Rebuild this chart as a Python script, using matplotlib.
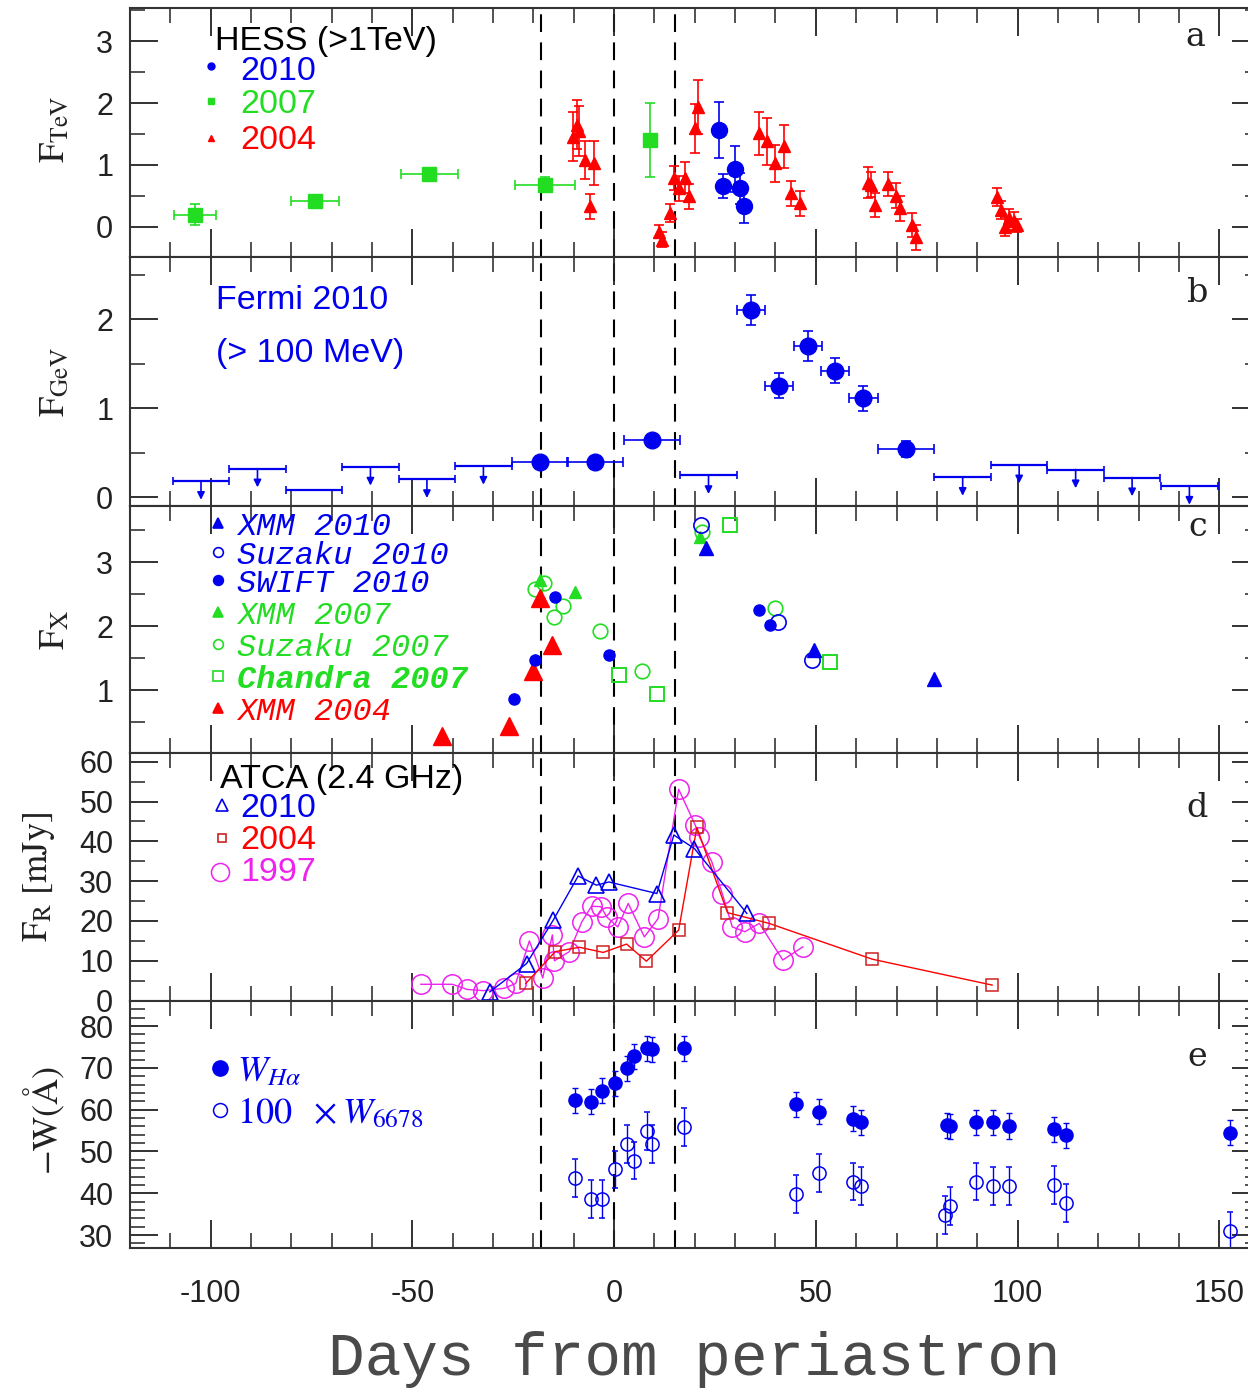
import matplotlib
matplotlib.use('Agg')
import matplotlib.pyplot as plt
from matplotlib.ticker import MultipleLocator, FixedLocator

plt.rcParams['font.family'] = ['Liberation Sans', 'DejaVu Sans']
plt.rcParams['mathtext.fontset'] = 'stix'
plt.rcParams['axes.unicode_minus'] = False

BLUE = '#0000ee'
GREEN = '#22dd22'
RED = '#ff0000'
MAG = '#ee22ee'

# ---------------- data ----------------
dashed_days = [-18, 0, 15]

# (a) HESS >1 TeV
hess10_day = [26.0, 26.9, 29.9, 31.2, 32.1]
hess10_f = [1.57, 0.66, 0.94, 0.62, 0.34]
hess10_err = [0.45, 0.2, 0.37, 0.25, 0.28]

hess07_day = [-103.9, -74.2, -45.8, -17.1, 8.8]
hess07_f = [0.19, 0.41, 0.85, 0.68, 1.40]
hess07_xerr = [5.2, 6.0, 7.0, 7.5, 0.0]
hess07_yerr = [0.17, 0.06, 0.07, 0.12, 0.6]

hess04_day = [-10.2, -9.3, -8.6, -7.2, -6.1, -5.1, 11.2, 11.9, 13.9, 14.8, 16.0, 17.5,
              18.6, 20.1, 20.8, 35.8, 37.8, 39.9, 42.2, 43.9, 46.0, 63.0, 63.7, 64.7,
              67.8, 69.8, 70.9, 73.9, 74.8, 94.8, 95.8, 96.8, 98.0, 99.1, 99.9]
hess04_f = [1.46, 1.65, 1.55, 1.08, 0.33, 1.03, -0.08, -0.21, 0.22, 0.79, 0.62, 0.79,
            0.49, 1.59, 1.94, 1.51, 1.38, 1.03, 1.30, 0.54, 0.38, 0.71, 0.68, 0.35,
            0.69, 0.50, 0.30, 0.03, -0.17, 0.48, 0.27, 0.00, 0.14, 0.09, 0.02]
hess04_err = [0.4, 0.4, 0.4, 0.3, 0.2, 0.35, 0.1, 0.12, 0.15, 0.2, 0.2, 0.25,
              0.2, 0.4, 0.44, 0.35, 0.38, 0.3, 0.35, 0.2, 0.2, 0.25, 0.2, 0.2,
              0.2, 0.2, 0.2, 0.2, 0.2, 0.15, 0.15, 0.15, 0.15, 0.15, 0.1]

# (b) Fermi >100 MeV
fermi_day = [-18.4, -4.7, 9.4, 33.9, 40.8, 48.0, 54.8, 61.8, 72.4]
fermi_f = [0.39, 0.39, 0.64, 2.10, 1.25, 1.70, 1.42, 1.11, 0.54]
fermi_xerr = [7, 7, 7, 3.5, 3.5, 3.5, 3.5, 3.5, 7]
fermi_yerr = [0.07, 0.07, 0.06, 0.17, 0.14, 0.17, 0.14, 0.14, 0.09]
fermi_ul_day = [-102.4, -88.4, -74.4, -60.4, -46.4, -32.4, 23.4, 86.4, 100.4, 114.4, 128.4, 142.6]
fermi_ul_f = [0.18, 0.32, 0.075, 0.34, 0.20, 0.35, 0.245, 0.225, 0.365, 0.31, 0.22, 0.125]
fermi_ul_xerr = 7

# (c) X-ray
xmm10_day = [22.9, 49.6, 79.3]
xmm10_f = [3.23, 1.63, 1.17]
suz10_day = [21.6, 40.6, 49.0]
suz10_f = [3.58, 2.07, 1.47]
swift10_day = [-24.8, -19.7, -14.6, -1.2, 35.8, 38.6]
swift10_f = [0.87, 1.48, 2.46, 1.55, 2.26, 2.02]
xmm07_day = [-18.4, -9.8, 21.4]
xmm07_f = [2.72, 2.53, 3.40]
suz07_day = [-19.5, -17.5, -14.8, -12.7, -3.6, 6.8, 21.8, 39.9]
suz07_f = [2.59, 2.68, 2.15, 2.32, 1.92, 1.30, 3.48, 2.28]
chandra07_day = [1.3, 10.6, 28.8, 53.6]
chandra07_f = [1.24, 0.94, 3.58, 1.44]
xmm04_day = [-42.7, -26.0, -20.1, -18.4, -15.5]
xmm04_f = [0.29, 0.44, 1.30, 2.44, 1.71]

# (d) ATCA 2.4 GHz
r10_day = [-30.8, -21.7, -15.1, -8.9, -4.4, -1.3, 10.6, 14.8, 19.9, 32.9]
r10_f = [2.2, 9.3, 20.2, 31.3, 29.0, 29.8, 26.9, 41.6, 38.2, 21.9]
r04_day = [-21.9, -14.6, -8.6, -2.7, 3.1, 8.0, 16.0, 20.5, 28.1, 38.4, 64.0, 93.7]
r04_f = [4.3, 12.3, 13.4, 12.1, 14.2, 9.9, 17.7, 43.5, 22.1, 19.4, 10.4, 3.9]
r97_day = [-47.9, -40.1, -36.4, -32.4, -27.2, -24.4, -21.0, -17.7, -15.3, -14.8, -11.1,
           -8.0, -5.6, -3.3, -1.8, 0.9, 3.5, 7.5, 10.9, 16.0, 20.1, 21.1, 24.2, 26.8,
           29.3, 32.4, 36.0, 41.8, 46.8]
r97_f = [4.1, 4.1, 2.8, 2.5, 3.1, 4.3, 15.0, 5.7, 16.5, 10.0, 12.3, 19.8, 23.7, 23.6,
         21.0, 18.5, 24.4, 16.0, 20.6, 53.1, 44.1, 41.2, 34.9, 26.9, 18.5, 17.3, 19.4,
         10.2, 13.5]

# (e) equivalent widths
ha_day = [-9.8, -5.8, -3.1, 0.1, 3.1, 4.9, 8.2, 9.3, 17.3, 45.2, 50.9, 59.1, 61.3,
          82.5, 83.2, 89.8, 93.9, 98.0, 109.0, 111.9, 152.7]
ha_w = [62.3, 61.9, 64.5, 66.3, 69.9, 72.8, 74.7, 74.4, 74.7, 61.3, 59.5, 57.8, 57.0,
        56.3, 56.0, 57.0, 57.0, 56.1, 55.3, 53.9, 54.5]
ha_err = [3.0] * 21
he_day = [-9.8, -5.8, -3.0, 0.1, 3.1, 4.9, 8.2, 9.3, 17.3, 45.2, 50.9, 59.1, 61.3,
          82.1, 83.2, 89.8, 93.9, 98.0, 109.0, 111.9, 152.7]
he_w = [43.7, 38.6, 38.6, 45.7, 51.8, 47.8, 54.9, 51.8, 55.9, 39.8, 44.8, 42.8, 41.7,
        34.8, 36.9, 42.8, 41.8, 41.8, 42.0, 37.7, 31.0]
he_err = [4.5] * 21

xticks = [-100, -50, 0, 50, 100, 150]

# ---------------- figure ----------------
W, H = 1248, 1391
fig = plt.figure(figsize=(W / 100, H / 100), dpi=100)
left = 130 / W
width = 1129.6 / W
spans = [(8, 257), (257, 506), (506, 753), (753, 1001), (1001, 1248)]
axes = []
for top, bot in spans:
    axes.append(fig.add_axes([left, 1 - bot / H, width, (bot - top) / H]))

for i, ax in enumerate(axes):
    ax.set_xlim(-120, 160)
    ax.xaxis.set_major_locator(FixedLocator(xticks))
    ax.xaxis.set_minor_locator(MultipleLocator(10))
    ax.tick_params(which='both', direction='in', top=True, right=True,
                   labelsize=22, colors='#222222', pad=12)
    ax.tick_params(which='major', length=20, width=1.3)
    ax.tick_params(which='minor', length=11, width=1.1)
    ax.tick_params(axis='x', pad=22)
    for s in ax.spines.values():
        s.set_linewidth(1.5)
        s.set_color('#333333')
    for xv in dashed_days:
        ax.axvline(xv, color='k', ls=(0, (8.5, 5)), lw=1.5, zorder=0)
    if i < 4:
        ax.tick_params(labelbottom=False)

ebk = dict(elinewidth=1.2, capsize=3.5, capthick=1.2, ls='none')

# (a)
ax = axes[0]
ax.set_ylim(-0.49, 3.54)
ax.yaxis.set_major_locator(FixedLocator([0, 1, 2, 3]))
ax.yaxis.set_minor_locator(MultipleLocator(0.5))
ax.errorbar(hess07_day, hess07_f, xerr=hess07_xerr, yerr=hess07_yerr, fmt='s',
            color=GREEN, ms=10, **ebk)
ax.errorbar(hess04_day, hess04_f, yerr=hess04_err, fmt='^', color=RED, ms=9, **ebk)
ax.errorbar(hess10_day, hess10_f, yerr=hess10_err, fmt='o', color=BLUE, ms=11.5, **ebk)
t = ax.transAxes
ax.text(0.0752, 0.866, 'HESS (>1TeV)', transform=t, fontsize=24.5, va='center', color='k')
ax.plot([0.0717], [0.767], 'o', color=BLUE, ms=5, transform=t)
ax.text(0.0974, 0.745, '2010', transform=t, fontsize=24.5, va='center', color=BLUE)
ax.plot([0.0717], [0.627], 's', color=GREEN, ms=5, transform=t)
ax.text(0.0974, 0.614, '2007', transform=t, fontsize=24.5, va='center', color=GREEN)
ax.plot([0.0717], [0.478], '^', color=RED, ms=5, transform=t)
ax.text(0.0974, 0.466, '2004', transform=t, fontsize=24.5, va='center', color=RED)
ax.text(0.943, 0.884, 'a', transform=t, fontsize=24, family='DejaVu Serif',
        va='center', ha='center', color='#222222')

# (b)
ax = axes[1]
ax.set_ylim(-0.1, 2.7)
ax.yaxis.set_major_locator(FixedLocator([0, 1, 2]))
ax.yaxis.set_minor_locator(MultipleLocator(0.5))
ax.errorbar(fermi_day, fermi_f, xerr=fermi_xerr, yerr=fermi_yerr, fmt='o',
            color=BLUE, ms=12, **ebk)
ax.errorbar(fermi_ul_day, fermi_ul_f, xerr=fermi_ul_xerr, fmt='none',
            ecolor=BLUE, elinewidth=1.6, capsize=3, capthick=1.2)
for xd, yf in zip(fermi_ul_day, fermi_ul_f):
    ax.annotate('', xy=(xd, yf - 0.21), xytext=(xd, yf),
                arrowprops=dict(arrowstyle='-|>', color=BLUE, lw=1.2,
                                mutation_scale=11, shrinkA=0, shrinkB=0))
t = ax.transAxes
ax.text(0.0761, 0.827, 'Fermi 2010', transform=t, fontsize=24.5, va='center', color=BLUE)
ax.text(0.0761, 0.614, '(> 100 MeV)', transform=t, fontsize=24.5, va='center', color=BLUE)
ax.text(0.945, 0.855, 'b', transform=t, fontsize=24, family='DejaVu Serif',
        va='center', ha='center', color='#222222')

# (c)
ax = axes[2]
ax.set_ylim(0.02, 3.88)
ax.yaxis.set_major_locator(FixedLocator([1, 2, 3]))
ax.yaxis.set_minor_locator(MultipleLocator(0.5))
ax.plot(chandra07_day, chandra07_f, 's', mfc='none', mec=GREEN, mew=1.4, ms=9.5)
ax.plot(suz07_day, suz07_f, 'o', mfc='none', mec=GREEN, mew=1.2, ms=10.5)
ax.plot(xmm07_day, xmm07_f, '^', color=GREEN, ms=8.5)
ax.plot(xmm04_day, xmm04_f, '^', color=RED, ms=13)
ax.plot(suz10_day, suz10_f, 'o', mfc='none', mec=BLUE, mew=1.2, ms=11)
ax.errorbar(swift10_day, swift10_f, yerr=0.08, fmt='o', color=BLUE, ms=8,
            elinewidth=1.0, capsize=0)
ax.plot(xmm10_day, xmm10_f, '^', color=BLUE, ms=9.5)
t = ax.transAxes
leg_c = [('^', BLUE, True, 'XMM 2010', 'normal'),
         ('o', BLUE, False, 'Suzaku 2010', 'normal'),
         ('o', BLUE, True, 'SWIFT 2010', 'normal'),
         ('^', GREEN, True, 'XMM 2007', 'normal'),
         ('o', GREEN, False, 'Suzaku 2007', 'normal'),
         ('s', GREEN, False, 'Chandra 2007', 'bold'),
         ('^', RED, True, 'XMM 2004', 'normal')]
ys_c = [0.915, 0.798, 0.684, 0.555, 0.425, 0.296, 0.166]
for (m, c, filled, lab, wt), yy in zip(leg_c, ys_c):
    ax.plot([0.0779], [yy + 0.015], m, transform=t, ms=7,
            mfc=c if filled else 'none', mec=c, mew=1.2)
    ax.text(0.0947, yy, lab, transform=t, fontsize=23, family='Liberation Mono',
            style='italic', weight=wt, va='center', color=c)
ax.text(0.945, 0.915, 'c', transform=t, fontsize=24, family='DejaVu Serif',
        va='center', ha='center', color='#222222')

# (d)
ax = axes[3]
ax.set_ylim(-0.1, 62.2)
ax.yaxis.set_major_locator(MultipleLocator(10))
ax.yaxis.set_minor_locator(MultipleLocator(5))
ax.plot(r97_day, r97_f, '-o', color=MAG, mfc='none', mec=MAG, mew=1.1, ms=14, lw=1.0)
ax.plot(r04_day, r04_f, '-s', color=RED, mfc='none', mec='#cc2222', mew=1.1, ms=9, lw=1.0)
ax.plot(r10_day, r10_f, '-^', color=BLUE, mfc='none', mec=BLUE, mew=1.2, ms=11, lw=1.0)
t = ax.transAxes
ax.text(0.0797, 0.895, 'ATCA (2.4 GHz)', transform=t, fontsize=24.5, va='center', color='k')
ax.plot([0.0815], [0.790], '^', transform=t, ms=8, mfc='none', mec=BLUE, mew=1.2)
ax.text(0.0974, 0.778, '2010', transform=t, fontsize=24.5, va='center', color=BLUE)
ax.plot([0.0815], [0.657], 's', transform=t, ms=6, mfc='none', mec='#cc2222', mew=1.2)
ax.text(0.0974, 0.649, '2004', transform=t, fontsize=24.5, va='center', color=RED)
ax.plot([0.0797], [0.520], 'o', transform=t, ms=13, mfc='none', mec=MAG, mew=1.1)
ax.text(0.0974, 0.520, '1997', transform=t, fontsize=24.5, va='center', color=MAG)
ax.text(0.945, 0.778, 'd', transform=t, fontsize=24, family='DejaVu Serif',
        va='center', ha='center', color='#222222')

# (e)
ax = axes[4]
ax.set_ylim(26.9, 86.0)
ax.yaxis.set_major_locator(MultipleLocator(10))
ax.yaxis.set_minor_locator(MultipleLocator(2))
ax.errorbar(he_day, he_w, yerr=he_err, fmt='o', mfc='none', mec=BLUE, color=BLUE,
            ms=9.5, mew=1.1, elinewidth=1.0, capsize=2, capthick=1.0, ls='none')
ax.errorbar(ha_day, ha_w, yerr=ha_err, fmt='o', color=BLUE, ms=9.5,
            elinewidth=1.0, capsize=2, capthick=1.0, ls='none')
t = ax.transAxes
ax.plot([0.0797], [0.729], 'o', transform=t, ms=11, color=BLUE)
ax.text(0.095, 0.715, r'$W_{H\alpha}$', transform=t, fontsize=26, va='center', color=BLUE)
ax.plot([0.0797], [0.559], 'o', transform=t, ms=10, mfc='none', mec=BLUE, mew=1.1)
ax.text(0.095, 0.545, r'$\mathit{100}\ \ \times W_{\mathit{6678}}$', transform=t,
        fontsize=26, va='center', color=BLUE)
ax.text(0.945, 0.773, 'e', transform=t, fontsize=24, family='DejaVu Serif',
        va='center', ha='center', color='#222222')
ax.set_xticklabels([str(v) for v in xticks])
# top tick label of panel e sits just under the "0" of panel d, as in the reference
ax.set_yticks([30, 40, 50, 60, 70, 80])

# y labels
ylab_kw = dict(rotation=90, ha='center', va='center', fontsize=26, color='#222222')
fig.text(0.044, 1 - 130 / H, r'$\mathrm{F}_{\mathrm{TeV}}$', **ylab_kw)
fig.text(0.044, 1 - 382 / H, r'$\mathrm{F}_{\mathrm{GeV}}$', **ylab_kw)
fig.text(0.044, 1 - 630 / H, r'$\mathrm{F}_{\mathrm{X}}$', **ylab_kw)
fig.text(0.031, 1 - 877 / H, r'$\mathrm{F}_{\mathrm{R}}\ [\mathrm{mJy}]$', **ylab_kw)
fig.text(0.036, 1 - 1120 / H, r'$-\mathrm{W}(\mathrm{\AA})$', **ylab_kw)

fig.text(0.556, 1 - 1360 / H, 'Days from periastron', family='Liberation Mono',
         fontsize=44, ha='center', va='center', color='#4a4a4a')

fig.savefig('out.png', dpi=100)
